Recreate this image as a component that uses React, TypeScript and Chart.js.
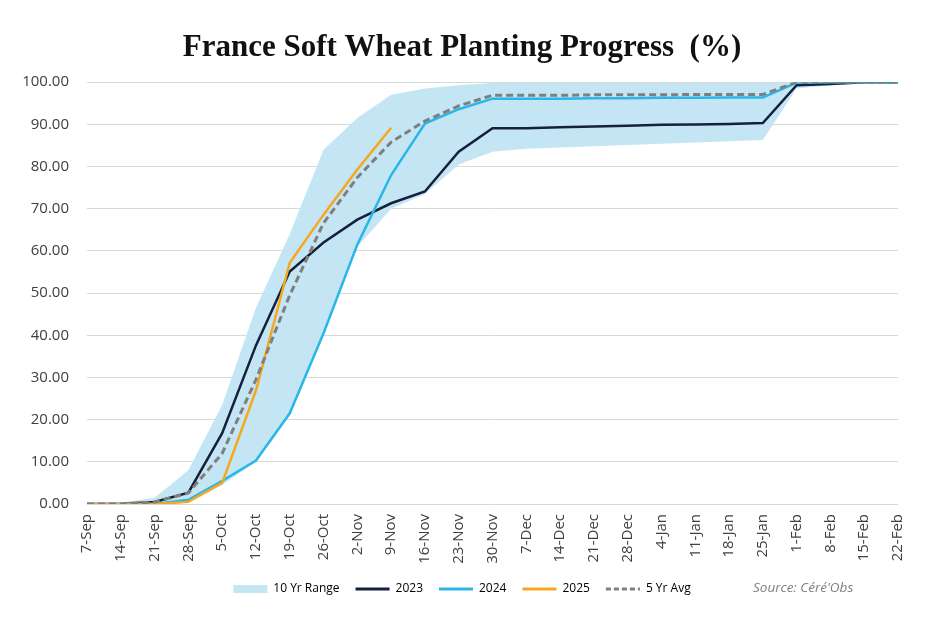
import React, { useEffect, useRef } from "react";
import { Chart, registerables } from "chart.js";

Chart.register(...registerables);

const categories = [
  "7-Sep", "14-Sep", "21-Sep", "28-Sep", "5-Oct", "12-Oct", "19-Oct", "26-Oct",
  "2-Nov", "9-Nov", "16-Nov", "23-Nov", "30-Nov", "7-Dec", "14-Dec", "21-Dec",
  "28-Dec", "4-Jan", "11-Jan", "18-Jan", "25-Jan", "1-Feb", "8-Feb", "15-Feb", "22-Feb",
];

const rangeUpper = [0, 0.3, 1.5, 8, 23.5, 46.5, 64, 84, 91.5, 97, 98.5, 99.3, 99.8, 99.8, 99.8, 99.8, 99.8, 99.8, 99.8, 99.8, 99.8, 100, 100, 100, 100];
const rangeLower = [0, 0, 0, 0.3, 4.5, 10, 21.5, 40.5, 61, 70, 73.5, 80.5, 83.5, 84.2, 84.5, 84.8, 85.1, 85.4, 85.7, 86, 86.3, 98.5, 99.3, 99.8, 100];
const y2023 = [0, 0, 0.5, 2.7, 16.8, 37.6, 55.1, 62, 67.4, 71.3, 74.1, 83.5, 89.1, 89.1, 89.3, 89.5, 89.7, 89.9, 90, 90.1, 90.3, 99.3, 99.6, 100, 100];
const y2024 = [0, 0, 0, 1, 5.5, 10.3, 21.5, 40.5, 61.5, 78, 90.2, 93.6, 96.1, 96.1, 96.1, 96.2, 96.2, 96.3, 96.3, 96.4, 96.4, 99.9, 100, 100, 100];
const y2025 = [0, 0, 0, 0.5, 5, 26.9, 57.2, 68.6, 79.3, 89.2, null, null, null, null, null, null, null, null, null, null, null, null, null, null, null];
const avg5 = [0, 0, 0.5, 2.6, 12, 29.5, 49.5, 66.6, 77.4, 85.8, 90.8, 94.4, 96.9, 96.9, 96.9, 97, 97, 97, 97.1, 97.1, 97.1, 100, 100, 100, 100];

const TITLE = "France Soft Wheat Planting Progress  (%)";
const SOURCE = "Source: Céré'Obs";

const BAND = "#c4e6f4";
const NAVY = "#15203d";
const BLUE = "#2ab6ea";
const ORANGE = "#f7a71f";
const GRAY = "#7f7f7f";

export default function App() {
  const ref = useRef<HTMLCanvasElement | null>(null);

  useEffect(() => {
    if (!ref.current) return;
    const chart = new Chart(ref.current, {
      type: "line",
      data: {
        labels: categories,
        datasets: [
          { label: "10 Yr Range", data: rangeUpper, borderWidth: 0, backgroundColor: BAND, borderColor: BAND, fill: 1, pointRadius: 0, order: 10 },
          { label: "10 Yr Range Low", data: rangeLower, borderWidth: 0, borderColor: BAND, fill: false, pointRadius: 0, order: 11 },
          { label: "2023", data: y2023, borderColor: NAVY, borderWidth: 2.5, pointRadius: 0, fill: false, order: 3 },
          { label: "2024", data: y2024, borderColor: BLUE, borderWidth: 2.5, pointRadius: 0, fill: false, order: 2 },
          { label: "2025", data: y2025, borderColor: ORANGE, borderWidth: 2.5, pointRadius: 0, fill: false, order: 1 },
          { label: "5 Yr Avg", data: avg5, borderColor: GRAY, borderWidth: 3, borderDash: [7, 4], pointRadius: 0, fill: false, order: 0 },
        ],
      },
      options: {
        responsive: false,
        animation: false,
        layout: { padding: { left: 0, right: 12, top: 0, bottom: 24 } },
        plugins: {
          tooltip: { enabled: false },
          title: {
            display: true,
            text: TITLE,
            color: "#111111",
            font: { family: "'Liberation Serif', serif", size: 31, weight: "bold" },
            padding: { top: 29, bottom: 16 },
          },
          legend: {
            position: "bottom",
            labels: {
              usePointStyle: true,
              pointStyleWidth: 34,
              boxHeight: 8,
              padding: 16,
              color: "#333333",
              font: { family: "'Open Sans', sans-serif", size: 12 },
              generateLabels: () => [
                { text: "10 Yr Range", fillStyle: BAND, strokeStyle: BAND, lineWidth: 0, pointStyle: "rect", hidden: false, datasetIndex: 0 },
                { text: "2023", fillStyle: NAVY, strokeStyle: NAVY, lineWidth: 3, pointStyle: "line", hidden: false, datasetIndex: 2 },
                { text: "2024", fillStyle: BLUE, strokeStyle: BLUE, lineWidth: 3, pointStyle: "line", hidden: false, datasetIndex: 3 },
                { text: "2025", fillStyle: ORANGE, strokeStyle: ORANGE, lineWidth: 3, pointStyle: "line", hidden: false, datasetIndex: 4 },
                { text: "5 Yr Avg", fillStyle: GRAY, strokeStyle: GRAY, lineWidth: 3, lineDash: [5, 3], pointStyle: "line", hidden: false, datasetIndex: 5 },
              ] as any,
            },
          },
        },
        scales: {
          x: {
            grid: { display: false, drawTicks: false },
            border: { display: false },
            ticks: {
              minRotation: 90,
              maxRotation: 90,
              autoSkip: false,
              padding: 10,
              color: "#404040",
              font: { family: "'Open Sans', sans-serif", size: 15 },
            },
            afterFit: (s: any) => { s.height = 63; },
          },
          y: {
            min: 0,
            max: 100,
            grid: { color: "#d9d9d9", lineWidth: 1, drawTicks: false },
            border: { display: false },
            ticks: {
              stepSize: 10,
              padding: 18,
              color: "#404040",
              font: { family: "'Open Sans', sans-serif", size: 15 },
              callback: (v: any) => Number(v).toFixed(2),
            },
            afterFit: (s: any) => { s.width = 87; },
          },
          y2: {
            position: "right",
            display: true,
            min: 0,
            max: 100,
            grid: { display: false, drawTicks: false },
            border: { display: false },
            ticks: { display: false },
            afterFit: (s: any) => { s.width = 26; },
          },
        },
      } as any,
    });
    return () => chart.destroy();
  }, []);

  return (
    <div style={{ position: "fixed", left: 0, top: 0, width: 936, height: 629, background: "#fff" }}>
      <canvas ref={ref} width={936} height={629} style={{ width: 936, height: 629, display: "block" }} />
      <div
        style={{
          position: "absolute",
          left: 753,
          top: 578,
          fontFamily: "'Open Sans', sans-serif",
          fontStyle: "italic",
          fontSize: 13.5,
          lineHeight: "18px",
          color: "#7f7f7f",
          whiteSpace: "nowrap",
        }}
      >
        {SOURCE}
      </div>
    </div>
  );
}
